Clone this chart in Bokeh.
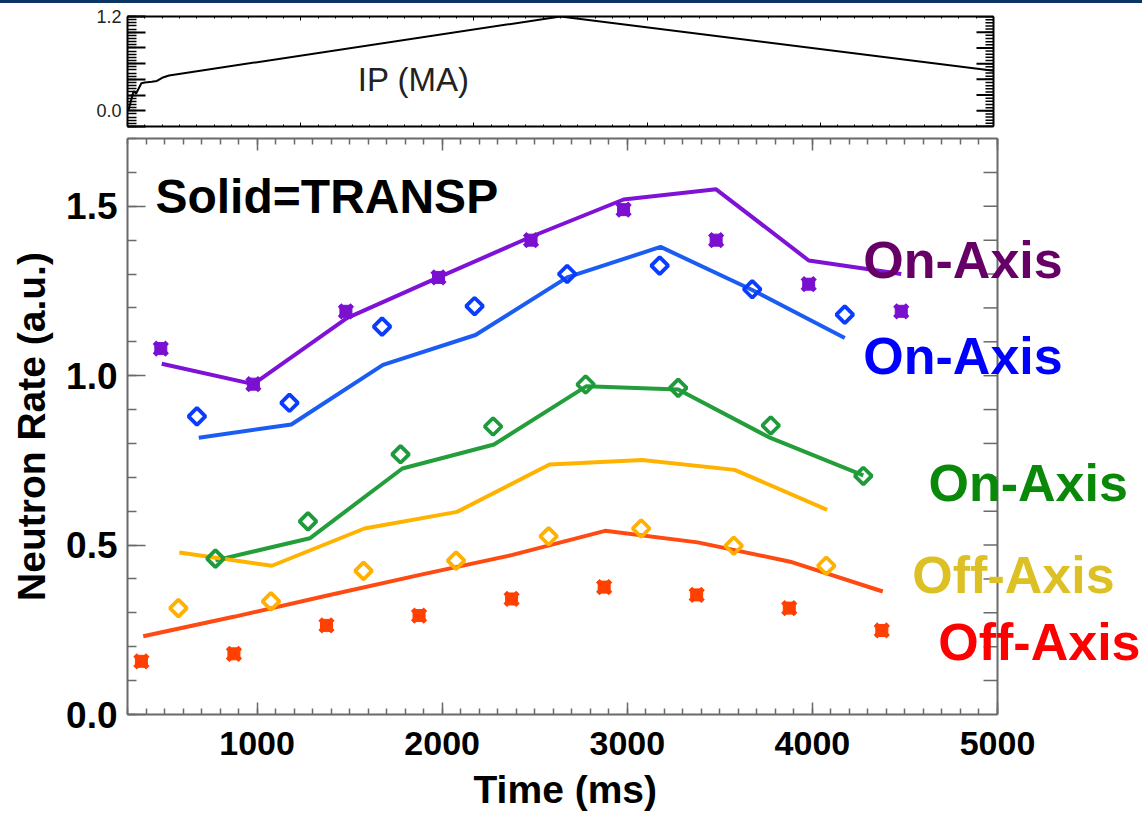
import numpy as np
from bokeh.plotting import figure
from bokeh.models import (LinearAxis, Range1d, FixedTicker, SingleIntervalTicker, Label, Div,
                          Span, PrintfTickFormatter, Title)
from bokeh.layouts import column
from bokeh.embed import file_html
from bokeh.resources import INLINE

# ---------------- data ----------------
ip_t = [5, 25, 35, 50, 80, 100, 140, 170, 200, 240, 2500, 5000]
ip_ma = [0.0, 0.17, 0.25, 0.22, 0.35, 0.36, 0.37, 0.38, 0.42, 0.45, 1.2, 0.51]

purple_obs_t = [480, 980, 1480, 1980, 2480, 2980, 3480, 3980, 4480]
purple_obs = [1.08, 0.975, 1.19, 1.29, 1.40, 1.49, 1.40, 1.27, 1.19]
purple_sim_t = [485, 980, 1485, 1980, 2480, 2980, 3480, 3980, 4480]
purple_sim = [1.035, 0.975, 1.17, 1.29, 1.41, 1.52, 1.55, 1.34, 1.30]

blue_obs_t = [675, 1175, 1675, 2175, 2675, 3175, 3675, 4175]
blue_obs = [0.88, 0.92, 1.145, 1.205, 1.30, 1.325, 1.255, 1.18]
blue_sim_t = [685, 1185, 1680, 2180, 2675, 3180, 3675, 4175]
blue_sim = [0.817, 0.856, 1.032, 1.12, 1.29, 1.38, 1.253, 1.111]

green_obs_t = [775, 1275, 1775, 2275, 2775, 3275, 3775, 4275]
green_obs = [0.46, 0.57, 0.768, 0.85, 0.974, 0.964, 0.853, 0.704]
green_sim_t = [775, 1285, 1785, 2280, 2780, 3275, 3770, 4275]
green_sim = [0.455, 0.52, 0.726, 0.797, 0.969, 0.959, 0.817, 0.706]

orange_obs_t = [575, 1075, 1575, 2075, 2575, 3075, 3575, 4075]
orange_obs = [0.314, 0.334, 0.424, 0.454, 0.526, 0.549, 0.498, 0.439]
orange_sim_t = [580, 1080, 1580, 2080, 2580, 3080, 3580, 4080]
orange_sim = [0.478, 0.439, 0.549, 0.598, 0.738, 0.751, 0.722, 0.604]

red_obs_t = [375, 875, 1375, 1875, 2375, 2875, 3375, 3875, 4375]
red_obs = [0.157, 0.179, 0.263, 0.292, 0.341, 0.376, 0.353, 0.314, 0.248]
red_sim_t = [385, 880, 1380, 1880, 2380, 2880, 3380, 3880, 4380]
red_sim = [0.231, 0.289, 0.351, 0.412, 0.471, 0.542, 0.508, 0.451, 0.363]

ip_major_ticks = [-0.2, 0.0, 0.2, 0.4, 0.6, 0.8, 1.0, 1.2]
ip_minor_ticks = [round(-0.2 + 0.04 * i, 3) for i in range(36)]
ip_labelled = {-0.2: "", 0.2: "", 0.4: "", 0.6: "", 0.8: "", 1.0: "", 0.0: "0.0", 1.2: "1.2"}

IP_T_MAX = 5000
T_MIN, T_MAX = 300, 5000
Y_MIN, Y_MAX = 0.0, 1.7
right_ticks = [round(0.1 * i, 1) for i in range(1, 17)]

FONT = "'Liberation Sans', Arial, sans-serif"
LEFT = 127
FRAME_W = 1142 - LEFT   # frames run to the page edge so side notes are not clipped

# ---------------- top panel (plasma current) ----------------
ip_px_per_ms = 866.0 / IP_T_MAX
top = figure(width=1142, height=127, output_backend="svg", toolbar_location=None,
             x_range=Range1d(0, FRAME_W / ip_px_per_ms), y_range=Range1d(-0.2, 1.2),
             min_border_left=LEFT, min_border_right=0, min_border_top=13, min_border_bottom=4,
             x_axis_location=None, y_axis_location=None)
top.grid.visible = False
top.outline_line_color = None

yax = LinearAxis(ticker=FixedTicker(ticks=ip_major_ticks, minor_ticks=ip_minor_ticks))
yax.major_tick_in = 18
yax.major_tick_out = 0
yax.minor_tick_in = 9
yax.minor_tick_out = 0
yax.axis_line_color = "black"
yax.axis_line_width = 2
yax.major_tick_line_width = 2
yax.minor_tick_line_width = 1.5
yax.major_label_overrides = ip_labelled
yax.major_label_text_font = FONT
yax.major_label_text_font_size = "18px"
yax.major_label_text_color = "#222222"
yax.major_label_standoff = 6
top.add_layout(yax, "left")

for loc in ("below", "above"):
    ax = LinearAxis(ticker=SingleIntervalTicker(interval=1000, num_minor_ticks=10),
                    bounds=(0, IP_T_MAX))
    ax.major_tick_in = 4
    ax.major_tick_out = 0
    ax.minor_tick_in = 2
    ax.minor_tick_out = 0
    ax.axis_line_color = "black"
    ax.axis_line_width = 2
    ax.major_label_text_font_size = "0px"
    ax.major_label_standoff = 0
    top.add_layout(ax, loc)

# right edge of the current panel with its inward ticks
top.add_layout(Span(location=IP_T_MAX, dimension="height", line_color="black", line_width=2))
maj_len = 17 / ip_px_per_ms
min_len = 8 / ip_px_per_ms
top.segment(x0=[IP_T_MAX - min_len] * len(ip_minor_ticks), y0=ip_minor_ticks,
            x1=[IP_T_MAX] * len(ip_minor_ticks), y1=ip_minor_ticks,
            line_color="black", line_width=1.5)
top.segment(x0=[IP_T_MAX - maj_len] * len(ip_major_ticks), y0=ip_major_ticks,
            x1=[IP_T_MAX] * len(ip_major_ticks), y1=ip_major_ticks,
            line_color="black", line_width=2)

top.line(ip_t, ip_ma, line_color="black", line_width=2)
top.add_layout(Label(x=1330, y=0.40, text="IP (MA)", text_font=FONT, text_font_size="33px",
                     text_color="#222222", text_baseline="middle"))

# ---------------- main panel ----------------
px_per_ms = 870.0 / (T_MAX - T_MIN)
x_end = T_MIN + FRAME_W / px_per_ms
p = figure(width=1142, height=688, output_backend="svg", toolbar_location=None,
           x_range=Range1d(T_MIN, x_end), y_range=Range1d(Y_MIN, Y_MAX),
           min_border_left=LEFT, min_border_right=0, min_border_top=8, min_border_bottom=102,
           x_axis_location=None, y_axis_location=None)
p.grid.visible = False
p.outline_line_color = None

AX_COL = "#6a6a6a"

xb = LinearAxis(ticker=SingleIntervalTicker(interval=1000, num_minor_ticks=10),
                bounds=(T_MIN, T_MAX))
yl = LinearAxis(ticker=SingleIntervalTicker(interval=0.5, num_minor_ticks=5),
                axis_label="Neutron Rate (a.u.)", formatter=PrintfTickFormatter(format="%.1f"))
for ax in (xb, yl):
    ax.axis_line_color = AX_COL
    ax.axis_line_width = 2
    ax.major_tick_line_color = AX_COL
    ax.minor_tick_line_color = AX_COL
    ax.major_tick_line_width = 1.5
    ax.minor_tick_line_width = 1.5
    ax.major_tick_out = 0
    ax.minor_tick_out = 0
    ax.major_label_text_font = FONT
    ax.major_label_text_font_style = "bold"
    ax.major_label_text_color = "black"
    ax.axis_label_text_font = FONT
    ax.axis_label_text_font_style = "bold"
    ax.axis_label_text_font_size = "39px"
    ax.axis_label_text_color = "black"
xb.major_label_text_font_size = "34px"
yl.major_label_text_font_size = "37px"
xb.major_tick_in = 12
xb.minor_tick_in = 6
xb.major_label_standoff = 17
yl.major_tick_in = 18
yl.minor_tick_in = 9
yl.major_label_standoff = 10
yl.axis_label_standoff = 10
p.add_layout(xb, "below")
p.add_layout(yl, "left")

# x-axis title, centred under the visible box (not under the widened frame)
p.add_layout(Title(text="Time (ms)", align="left", offset=346, text_font=FONT,
                   text_font_style="bold", text_font_size="39px", text_color="black",
                   standoff=16), "below")

xt = LinearAxis(ticker=SingleIntervalTicker(interval=1000, num_minor_ticks=10),
                bounds=(T_MIN, T_MAX))
xt.axis_line_color = AX_COL
xt.axis_line_width = 2
xt.major_tick_line_color = AX_COL
xt.minor_tick_line_color = AX_COL
xt.major_tick_line_width = 1.5
xt.minor_tick_line_width = 1.5
xt.major_tick_out = 0
xt.minor_tick_out = 0
xt.major_label_text_font_size = "0px"
xt.major_label_standoff = 0
xt.major_tick_in = 12
xt.minor_tick_in = 6
p.add_layout(xt, "above")

# right edge of the box with its inward ticks
p.add_layout(Span(location=T_MAX, dimension="height", line_color=AX_COL, line_width=2))
tick_len = 14 / px_per_ms
p.segment(x0=[T_MAX - tick_len] * len(right_ticks), y0=right_ticks,
          x1=[T_MAX] * len(right_ticks), y1=right_ticks, line_color=AX_COL, line_width=1.5)

def xsquare(t, v, color):
    p.scatter(t, v, marker="square", size=12, fill_color=color, line_color=color, line_width=1)
    p.scatter(t, v, marker="x", size=18, line_color=color, line_width=5)

def diamond(t, v, color):
    p.scatter(t, v, marker="square", angle=np.pi / 4, size=12, fill_color=None,
              line_color=color, line_width=3.8)

LW = 4
p.line(purple_sim_t, purple_sim, line_color="#7E12D6", line_width=LW)
p.line(blue_sim_t, blue_sim, line_color="#1B5DF2", line_width=LW)
p.line(green_sim_t, green_sim, line_color="#239E3A", line_width=LW)
p.line(orange_sim_t, orange_sim, line_color="#FFB300", line_width=LW)
p.line(red_sim_t, red_sim, line_color="#FF4A12", line_width=LW)

xsquare(purple_obs_t, purple_obs, "#7A10D0")
diamond(blue_obs_t, blue_obs, "#0A3CFF")
diamond(green_obs_t, green_obs, "#1E9A3C")
diamond(orange_obs_t, orange_obs, "#FFB000")
xsquare(red_obs_t, red_obs, "#FF4000")

def note(x, y, text, color, size="52px"):
    p.add_layout(Label(x=x, y=y, text=text, text_font=FONT, text_font_style="bold",
                       text_font_size=size, text_color=color, text_baseline="middle",
                       text_align="left"))

note(451, 1.529, "Solid=TRANSP", "black", "48px")
note(4275, 1.341, "On-Axis", "#660066")
note(4275, 1.059, "On-Axis", "#0000FF")
note(4627, 0.682, "On-Axis", "#0A880A")
note(4540, 0.412, "Off-Axis", "#DCC024")
note(4680, 0.213, "Off-Axis", "#FF0000")

bar = Div(text="", width=1142, height=3, margin=(0, 0, 0, 0),
          styles={"background-color": "#0B3565", "overflow": "hidden"})

layout = column(bar, top, p, spacing=0)
open("out.html", "w").write(file_html(layout, INLINE))
